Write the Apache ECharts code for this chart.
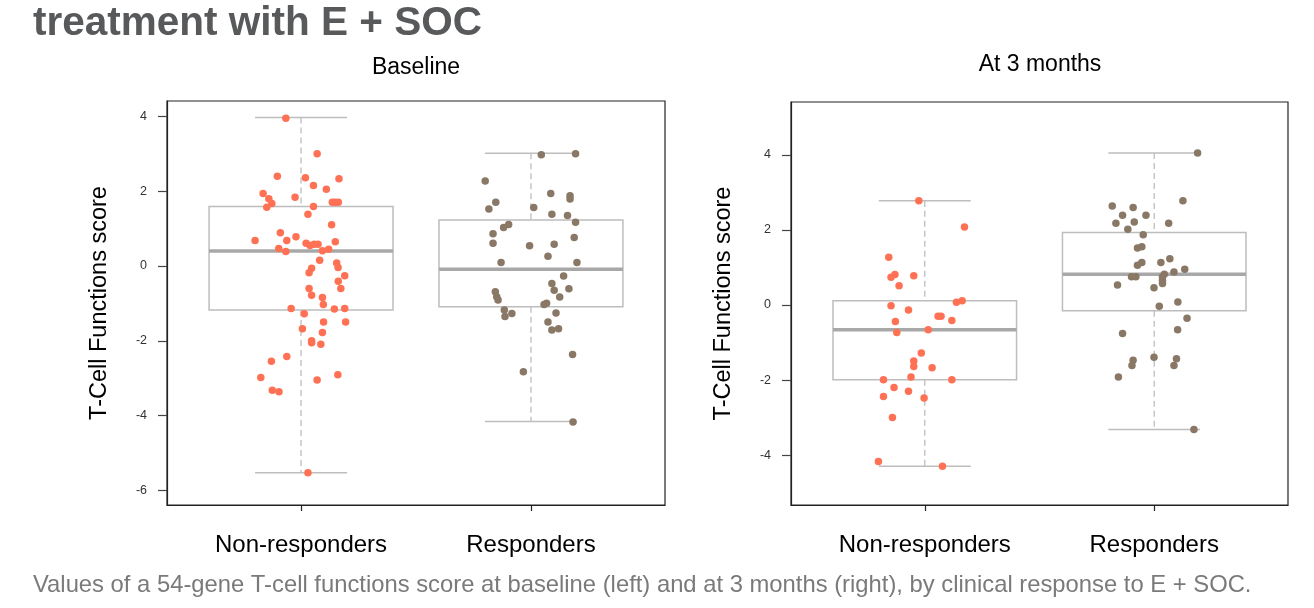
<!DOCTYPE html>
<html>
<head>
<meta charset="utf-8">
<script src="https://cdn.jsdelivr.net/npm/echarts@6/dist/echarts.min.js"></script>
<style>
html,body{margin:0;padding:0;background:#fff;}
#chart{width:1314px;height:608px;}
</style>
</head>
<body>
<div id="chart"></div>
<script>
// ---------------- data ----------------
const categories = ['Non-responders', 'Responders'];
const panelTitles = ['Baseline', 'At 3 months'];
const yAxisTitle = 'T-Cell Functions score';
const mainTitle = 'treatment with E + SOC';
const caption = 'Values of a 54-gene T-cell functions score at baseline (left) and at 3 months (right), by clinical response to E + SOC.';
const baselineTicks = [-6, -4, -2, 0, 2, 4];
const month3Ticks = [-4, -2, 0, 2, 4];

// box stats: [whiskerLow, Q1, median, Q3, whiskerHigh]
const baselineBoxNR = [-5.53, -1.18, 0.40, 1.59, 3.97];
const baselineBoxR = [-4.16, -1.09, -0.09, 1.23, 3.01];
const month3BoxNR = [-4.30, -1.99, -0.66, 0.11, 2.78];
const month3BoxR = [-3.32, -0.15, 0.82, 1.93, 4.05];

// points: [jittered x position, score]
const baselineNR = [
  [0.934,3.95],[1.070,3.00],[0.897,2.40],[1.019,2.36],[1.165,2.33],[1.054,2.15],[1.110,2.05],
  [0.835,1.94],[0.860,1.80],[0.974,1.84],[0.873,1.67],[0.851,1.57],[1.136,1.70],[1.148,1.70],
  [1.162,1.70],[1.054,1.59],[1.030,1.38],[1.133,1.10],[0.910,0.89],[0.800,0.68],[0.938,0.68],
  [0.978,0.78],[0.903,0.47],[0.934,0.39],[1.022,0.61],[1.039,0.55],[1.057,0.58],[1.074,0.58],
  [1.149,0.65],[1.093,0.41],[1.120,0.45],[1.081,0.15],[1.155,0.08],[1.161,-0.04],[1.046,-0.06],
  [1.035,-0.18],[1.190,-0.26],[1.162,-0.41],[1.035,-0.60],[1.173,-0.60],[1.046,-0.78],[1.093,-0.84],
  [0.957,-1.14],[1.097,-1.03],[1.145,-1.15],[1.190,-1.14],[1.014,-1.28],[1.098,-1.50],[1.194,-1.50],
  [1.006,-1.68],[1.093,-1.78],[1.046,-2.00],[1.046,-2.05],[1.086,-2.09],[0.938,-2.42],[0.871,-2.55],
  [0.825,-2.98],[1.070,-3.05],[1.160,-2.91],[0.875,-3.32],[0.904,-3.36],[1.030,-5.53]
];
const baselineR = [
  [2.045,2.97],[2.194,3.00],[1.801,2.27],[2.086,1.94],[2.170,1.88],[2.170,1.79],[1.847,1.70],
  [1.817,1.52],[2.012,1.56],[2.091,1.38],[2.159,1.35],[2.194,1.17],[1.903,1.11],[1.881,1.03],
  [1.835,0.86],[2.188,0.76],[1.835,0.61],[1.994,0.54],[2.101,0.58],[2.074,0.26],[1.870,0.09],
  [2.200,0.09],[2.142,-0.27],[2.091,-0.47],[1.845,-0.69],[1.851,-0.82],[1.857,-0.91],[2.101,-0.65],
  [2.165,-0.61],[2.125,-0.83],[2.057,-1.03],[2.068,-1.00],[1.884,-1.18],[1.887,-1.35],[1.917,-1.27],
  [2.109,-1.26],[2.074,-1.50],[2.091,-1.71],[2.120,-1.68],[2.181,-2.37],[1.967,-2.83],[2.183,-4.17]
];
const month3NR = [
  [0.974,2.78],[1.173,2.08],[0.843,1.27],[0.853,0.74],[0.870,0.81],[0.952,0.78],[0.888,0.51],
  [0.853,-0.02],[0.929,-0.13],[1.138,0.07],[1.163,0.11],[0.872,-0.44],[1.058,-0.30],[1.071,-0.30],
  [1.118,-0.41],[0.878,-0.73],[1.015,-0.66],[0.985,-1.28],[0.952,-1.49],[0.952,-1.64],[1.032,-1.67],
  [0.940,-1.92],[0.820,-1.99],[1.118,-1.99],[0.866,-2.20],[0.929,-2.30],[0.820,-2.44],[0.997,-2.48],
  [0.859,-3.00],[0.798,-4.17],[1.077,-4.30]
];
const month3R = [
  [2.189,4.05],[2.125,2.78],[1.817,2.64],[1.908,2.60],[1.862,2.39],[1.964,2.39],[1.833,2.18],
  [1.913,2.21],[2.063,2.18],[1.885,2.02],[1.952,1.87],[1.927,1.52],[1.946,1.55],[2.068,1.23],
  [1.927,1.06],[1.946,1.13],[2.029,1.13],[2.133,0.95],[2.086,0.88],[2.044,0.82],[1.901,0.75],
  [1.920,0.75],[2.036,0.75],[2.036,0.66],[2.036,0.57],[1.840,0.53],[1.999,0.46],[2.103,0.08],
  [2.022,-0.03],[2.143,-0.35],[2.102,-0.66],[1.862,-0.76],[1.908,-1.47],[1.903,-1.61],[1.999,-1.39],
  [2.097,-1.43],[2.086,-1.61],[1.844,-1.92],[2.173,-3.32]
];

// ---------------- styling ----------------
const FONT = '"Liberation Sans", Arial, Helvetica, sans-serif';
const NR_COLOR = '#ff7155';
const R_COLOR = '#8a7866';
const BOX_COLOR = '#bdbdbd';
const MED_COLOR = '#a8a8a8';

function boxRender(params, api) {
  const x = api.value(0), lo = api.value(1), q1 = api.value(2), md = api.value(3), q3 = api.value(4), hi = api.value(5);
  const tl = api.coord([x - 0.4, q3]);
  const br = api.coord([x + 0.4, q1]);
  const mL = api.coord([x - 0.4, md]);
  const mR = api.coord([x + 0.4, md]);
  const cHiL = api.coord([x - 0.2, hi]), cHiR = api.coord([x + 0.2, hi]);
  const cLoL = api.coord([x - 0.2, lo]), cLoR = api.coord([x + 0.2, lo]);
  const wHi = api.coord([x, hi]), wQ3 = api.coord([x, q3]);
  const wQ1 = api.coord([x, q1]), wLo = api.coord([x, lo]);
  const dashed = {stroke: BOX_COLOR, lineWidth: 1.3, lineDash: [6, 4], fill: null};
  const solid = {stroke: BOX_COLOR, lineWidth: 1.5, fill: null};
  return {
    type: 'group',
    children: [
      {type: 'line', shape: {x1: wHi[0], y1: wHi[1], x2: wQ3[0], y2: wQ3[1]}, style: dashed},
      {type: 'line', shape: {x1: wQ1[0], y1: wQ1[1], x2: wLo[0], y2: wLo[1]}, style: dashed},
      {type: 'line', shape: {x1: cHiL[0], y1: cHiL[1], x2: cHiR[0], y2: cHiR[1]}, style: solid},
      {type: 'line', shape: {x1: cLoL[0], y1: cLoL[1], x2: cLoR[0], y2: cLoR[1]}, style: solid},
      {type: 'rect', shape: {x: tl[0], y: tl[1], width: br[0] - tl[0], height: br[1] - tl[1]}, style: solid},
      {type: 'line', shape: {x1: mL[0], y1: mL[1], x2: mR[0], y2: mR[1]}, style: {stroke: MED_COLOR, lineWidth: 3.5}}
    ]
  };
}

function makeX(idx) {
  return {
    type: 'value', gridIndex: idx, min: 0.417, max: 2.583,
    splitLine: {show: false},
    axisLine: {show: true, onZero: false, lineStyle: {color: '#222', width: 1.2}},
    axisTick: {show: true, customValues: [1, 2], length: 6, lineStyle: {color: '#222', width: 1.2}},
    axisLabel: {
      customValues: [1, 2], margin: 28, fontSize: 24, color: '#000', fontFamily: FONT,
      formatter: v => categories[Math.round(v) - 1]
    }
  };
}
function makeY(idx, min, max, ticks) {
  return {
    type: 'value', gridIndex: idx, min: min, max: max,
    name: yAxisTitle, nameLocation: 'middle', nameGap: 55,
    nameTextStyle: {fontSize: 23.5, color: '#000', fontFamily: FONT},
    splitLine: {show: false},
    axisLine: {show: true, lineStyle: {color: '#222', width: 1.2}},
    axisTick: {show: true, customValues: ticks, length: 9, lineStyle: {color: '#444', width: 1.2}},
    axisLabel: {customValues: ticks, margin: 20, fontSize: 12.5, color: '#333', fontFamily: FONT}
  };
}

function boxData(a, b) {
  return [[1].concat(a), [2].concat(b)];
}

const option = {
  animation: false,
  backgroundColor: '#fff',
  textStyle: {fontFamily: FONT},
  grid: [
    {left: 167, top: 101, width: 498, height: 404, show: true, borderColor: '#222', borderWidth: 1.2, backgroundColor: 'transparent'},
    {left: 791, top: 102, width: 497, height: 403, show: true, borderColor: '#222', borderWidth: 1.2, backgroundColor: 'transparent'}
  ],
  xAxis: [makeX(0), makeX(1)],
  yAxis: [makeY(0, -6.39, 4.41, baselineTicks), makeY(1, -5.33, 5.41, month3Ticks)],
  graphic: [
    {type: 'text', left: 33, top: 3, style: {text: mainTitle, font: 'bold 40.5px ' + FONT, fill: '#58595b'}},
    {type: 'text', x: 416, y: 68, style: {text: panelTitles[0], font: '23px ' + FONT, fill: '#000', align: 'center', verticalAlign: 'middle'}},
    {type: 'text', x: 1040, y: 65, style: {text: panelTitles[1], font: '23px ' + FONT, fill: '#000', align: 'center', verticalAlign: 'middle'}},
    {type: 'text', x: 33, y: 585, style: {text: caption, font: '23.8px ' + FONT, fill: '#7a7a7a', align: 'left', verticalAlign: 'middle'}}
  ],
  series: [
    {type: 'custom', xAxisIndex: 0, yAxisIndex: 0, renderItem: boxRender, data: boxData(baselineBoxNR, baselineBoxR), z: 2, silent: true},
    {type: 'custom', xAxisIndex: 1, yAxisIndex: 1, renderItem: boxRender, data: boxData(month3BoxNR, month3BoxR), z: 2, silent: true},
    {type: 'scatter', xAxisIndex: 0, yAxisIndex: 0, data: baselineNR, symbolSize: 7.5, itemStyle: {color: NR_COLOR, opacity: 1}, z: 5},
    {type: 'scatter', xAxisIndex: 0, yAxisIndex: 0, data: baselineR, symbolSize: 7.5, itemStyle: {color: R_COLOR, opacity: 1}, z: 5},
    {type: 'scatter', xAxisIndex: 1, yAxisIndex: 1, data: month3NR, symbolSize: 7.5, itemStyle: {color: NR_COLOR, opacity: 1}, z: 5},
    {type: 'scatter', xAxisIndex: 1, yAxisIndex: 1, data: month3R, symbolSize: 7.5, itemStyle: {color: R_COLOR, opacity: 1}, z: 5}
  ]
};

const chart = echarts.init(document.getElementById('chart'), null, {renderer: 'canvas'});
chart.setOption(option);
</script>
</body>
</html>
